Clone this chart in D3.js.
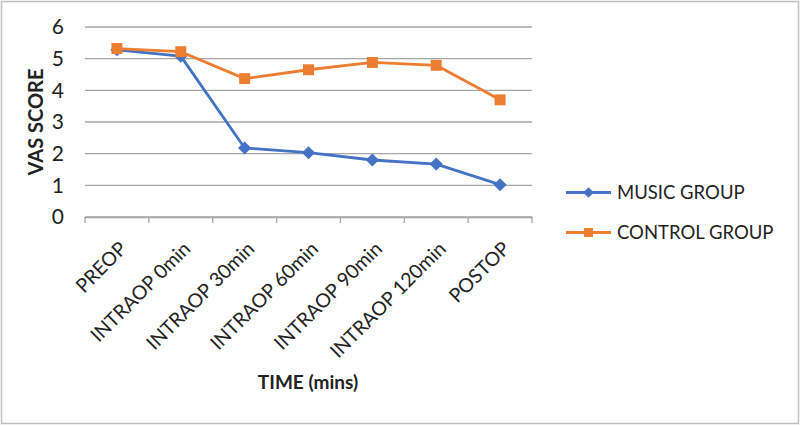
<!DOCTYPE html>
<html><head><meta charset="utf-8">
<script src="https://cdn.jsdelivr.net/npm/d3@7"></script>
<style>body{margin:0;background:#fff;}svg{display:block;font-family:Lato, "Open Sans", sans-serif;}</style>
</head><body>
<svg id="c" width="800" height="426"></svg>
<script>
const categories = ["PREOP","INTRAOP 0min","INTRAOP 30min","INTRAOP 60min","INTRAOP 90min","INTRAOP 120min","POSTOP"];
const musicGroup = [5.28, 5.08, 2.18, 2.03, 1.8, 1.67, 1.02];
const controlGroup = [5.32, 5.22, 4.37, 4.65, 4.88, 4.79, 3.7];
const yTicks = [0,1,2,3,4,5,6];
const seriesNames = ["MUSIC GROUP","CONTROL GROUP"];
const colors = ["#4472C4","#ED7D31"];

(function(){
const svg = d3.select("#c");
svg.append("rect").attr("x",1.5).attr("y",1.5).attr("width",797).attr("height",422).attr("fill","#fff").attr("stroke","#bfbfbf").attr("stroke-width",1.5);

const pL=85,pR=532,pT=27,pB=217;
const x = d3.scaleBand().domain(categories).range([pL,pR]);
const y = d3.scaleLinear().domain([0,6]).range([pB,pT]);

svg.append("g").selectAll("line").data(yTicks).join("line")
  .attr("x1",pL).attr("x2",pR).attr("y1",d=>y(d)).attr("y2",d=>y(d))
  .attr("stroke","#a6a6a6").attr("stroke-width",1.3);

const ya = svg.append("g").attr("transform",`translate(${pL},0)`)
  .call(d3.axisLeft(y).tickValues(yTicks).tickFormat(d3.format("d")).tickSize(0).tickPadding(21));
ya.select(".domain").remove();
ya.selectAll("text").attr("font-size",21).attr("fill","#222").attr("font-family","Lato, sans-serif");

const xa = svg.append("g").attr("transform",`translate(0,${pB})`).call(d3.axisBottom(x).tickSize(0).tickFormat(""));
xa.select(".domain").attr("stroke","#a6a6a6").attr("stroke-width",1.3);
const tickPos = categories.map(c=>x(c)).concat([pR]);
svg.append("g").selectAll("line").data(tickPos).join("line")
  .attr("x1",d=>d).attr("x2",d=>d).attr("y1",pB).attr("y2",pB+6)
  .attr("stroke","#a6a6a6").attr("stroke-width",1.3);
svg.append("g").selectAll("text").data(categories).join("text")
  .attr("transform",d=>`translate(${x(d)+x.bandwidth()/2+11},${pB+33}) rotate(-45)`)
  .attr("text-anchor","end").attr("font-size",19.5).attr("fill","#222").text(d=>d);

svg.append("text").attr("transform",`translate(43,${(pT+pB)/2}) rotate(-90)`)
  .attr("text-anchor","middle").attr("font-size",20).attr("font-weight","bold").attr("fill","#222").text("VAS SCORE");
svg.append("text").attr("x",308).attr("y",389).attr("text-anchor","middle")
  .attr("font-size",19).attr("font-weight","bold").attr("fill","#222").text("TIME (mins)");

const cx = d=>x(d)+x.bandwidth()/2;
const line = d3.line().x((d,i)=>cx(categories[i])).y(d=>y(d));
const diamond = d3.symbol().type(d3.symbolDiamond2).size(110);
const square = d3.symbol().type(d3.symbolSquare).size(120);

function drawSeries(vals,color,sym){
  svg.append("path").datum(vals).attr("d",line).attr("fill","none").attr("stroke",color).attr("stroke-width",2.8).attr("stroke-linejoin","round");
  svg.append("g").selectAll("path").data(vals).join("path")
    .attr("transform",(d,i)=>`translate(${cx(categories[i])},${y(d)})`)
    .attr("d",sym).attr("fill",color);
}
drawSeries(musicGroup,colors[0],diamond);
drawSeries(controlGroup,colors[1],square);

const leg = svg.append("g");
[0,1].forEach(i=>{
  const ly = 192.5 + i*40;
  leg.append("line").attr("x1",566).attr("x2",611).attr("y1",ly).attr("y2",ly).attr("stroke",colors[i]).attr("stroke-width",2.8);
  leg.append("path").attr("transform",`translate(588.5,${ly})`).attr("d",i===0?d3.symbol().type(d3.symbolDiamond2).size(70)():d3.symbol().type(d3.symbolSquare).size(80)()).attr("fill",colors[i]);
  leg.append("text").attr("x",617).attr("y",ly+6.5).attr("font-size",18.5).attr("fill","#222").text(seriesNames[i]);
});
})();
</script>
</body></html>
